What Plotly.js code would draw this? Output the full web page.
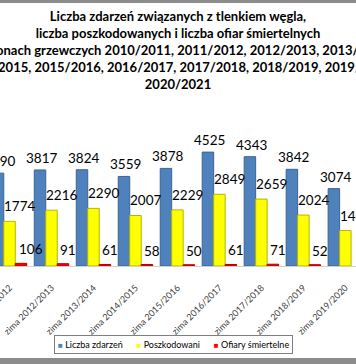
<!DOCTYPE html>
<html>
<head>
<meta charset="utf-8">
<script src="https://cdn.plot.ly/plotly-3.0.1.min.js"></script>
<style>
  html, body { margin: 0; padding: 0; background: #fff; }
  body { width: 356px; height: 364px; overflow: hidden; position: relative; }
  #chart { position: absolute; left: -60px; top: 0; width: 476px; height: 364px; }
  .band { position: absolute; left: 0; width: 356px; background: #8c8c8c; z-index: 5; }
</style>
</head>
<body>
<div id="chart"></div>
<div class="band" style="top:0;height:3px;"></div>
<div class="band" style="top:358px;height:6px;"></div>
<script>
// ---- data ----
var categories = ['zima 2011/2012', 'zima 2012/2013', 'zima 2013/2014', 'zima 2014/2015',
                  'zima 2015/2016', 'zima 2016/2017', 'zima 2017/2018', 'zima 2018/2019',
                  'zima 2019/2020'];
var events  = [3690, 3817, 3824, 3559, 3878, 4525, 4343, 3842, 3074];  // Liczba zdarzeń
var injured = [1774, 2216, 2290, 2007, 2229, 2849, 2659, 2024, 1409];  // Poszkodowani
var deaths  = [106, 91, 61, 58, 50, 61, 71, 52, null];                 // Ofiary śmiertelne
var seriesNames = ['Liczba zdarzeń', 'Poszkodowani', 'Ofiary śmiertelne'];
var titleLines = [
  'Liczba zdarzeń związanych z tlenkiem węgla,',
  'liczba poszkodowanych i liczba ofiar śmiertelnych',
  'w sezonach grzewczych 2010/2011, 2011/2012, 2012/2013, 2013/2014,',
  '2014/2015, 2015/2016, 2016/2017, 2017/2018, 2018/2019, 2019/2020,',
  '2020/2021'
];

// ---- styles ----
var colors = ['#4F81BD', '#FFFF00', '#FF0000'];
var edges  = ['#3A6494', '#B5B500', '#B00000'];
var FONT = 'Lato, "Open Sans", sans-serif';

var allSeries = [events, injured, deaths];
var traces = allSeries.map(function (vals, k) {
  return {
    type: 'bar',
    name: seriesNames[k],
    x: categories,
    y: vals,
    marker: { color: colors[k], line: { color: edges[k], width: 1 } },
    hoverinfo: 'none',
    showlegend: false
  };
});

// value labels, offset per series
var lblShift = [
  { xshift: -10, yshift: 12, xanchor: 'center' },
  { xshift: 10,  yshift: 15, xanchor: 'center' },
  { xshift: 7,   yshift: 14, xanchor: 'left' }
];
var annotations = [];
allSeries.forEach(function (vals, k) {
  vals.forEach(function (v, i) {
    if (v === null) return;
    annotations.push({
      x: categories[i], y: v, xref: 'x', yref: 'y',
      text: String(v), showarrow: false,
      xanchor: lblShift[k].xanchor, yanchor: 'middle',
      xshift: lblShift[k].xshift, yshift: lblShift[k].yshift,
      font: { family: FONT, size: 13.5, color: '#000' }
    });
  });
});

// legend box (drawn as a bordered text box)
var legendText = seriesNames.map(function (n, k) {
  return '<span style="color:' + colors[k] + ';font-size:8px">■</span> ' + n;
}).join('\u00a0\u00a0\u00a0\u00a0\u00a0\u00a0');
annotations.push({
  xref: 'paper', yref: 'paper', x: 0.4886, y: -0.523,
  xanchor: 'center', yanchor: 'middle', showarrow: false,
  text: legendText,
  font: { family: FONT, size: 9, color: '#000' },
  bordercolor: '#7f7f7f', borderwidth: 1, borderpad: 3, bgcolor: '#fff'
});

var layout = {
  width: 476, height: 364,
  paper_bgcolor: '#fff', plot_bgcolor: '#fff',
  margin: { l: 40, r: 40, t: 115, b: 98 },
  title: {
    text: titleLines.join('<br>'),
    font: { family: FONT, size: 13, color: '#000', weight: 'bold' },
    xref: 'container', x: 0.5, xanchor: 'center',
    yref: 'container', y: 1 - 21 / 364, yanchor: 'top'
  },
  barmode: 'group', bargap: 0.18, bargroupgap: 0,
  xaxis: {
    type: 'category', categoryarray: categories, categoryorder: 'array',
    range: [-0.703, 8.730],
    showline: true, linecolor: '#D0D0D0', linewidth: 1,
    showgrid: false, zeroline: false, ticks: '',
    tickangle: -45, ticklabelstandoff: 12,
    tickfont: { family: FONT, size: 9, color: '#404040' }
  },
  yaxis: {
    range: [0, 6000], visible: false, showgrid: false, zeroline: false
  },
  showlegend: false,
  annotations: annotations
};

Plotly.newPlot('chart', traces, layout, { staticPlot: true, displayModeBar: false });
</script>
</body>
</html>
